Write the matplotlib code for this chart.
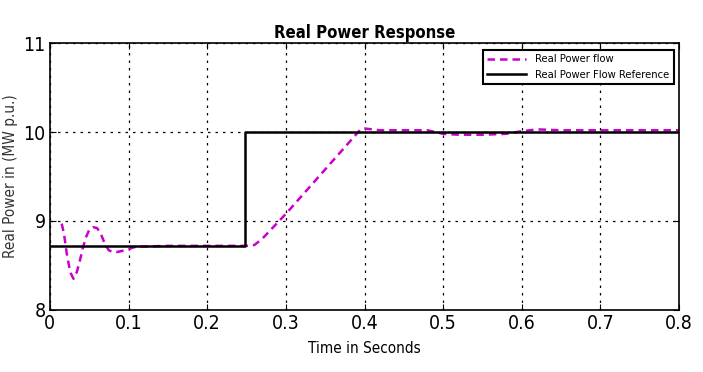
import matplotlib
matplotlib.use("Agg")
import matplotlib.pyplot as plt
import numpy as np

plt.rcParams['font.family'] = ['DejaVu Sans']
plt.rcParams['font.stretch'] = 'condensed'

# reference power (step at 0.25 s)
t_ref = [0.0, 0.248, 0.248, 0.8]
p_ref = [8.72, 8.72, 10.0, 10.0]

# measured real power flow
t_flow = [0.015, 0.018, 0.022, 0.026, 0.030, 0.034, 0.038, 0.042, 0.046, 0.050, 0.055,
          0.060, 0.065, 0.070, 0.075, 0.080, 0.085, 0.090, 0.095, 0.100, 0.105, 0.110,
          0.15, 0.20, 0.25, 0.255, 0.26, 0.27, 0.30, 0.33, 0.36, 0.39, 0.395, 0.40,
          0.42, 0.45, 0.48, 0.50, 0.52, 0.55, 0.58, 0.60, 0.62, 0.65, 0.70, 0.75, 0.80]
p_flow = [8.97, 8.85, 8.60, 8.42, 8.35, 8.42, 8.55, 8.70, 8.82, 8.90, 8.93,
          8.92, 8.85, 8.74, 8.67, 8.65, 8.65, 8.66, 8.67, 8.68, 8.70, 8.71,
          8.72, 8.72, 8.72, 8.72, 8.73, 8.80, 9.08, 9.38, 9.68, 9.98, 10.03, 10.04,
          10.02, 10.02, 10.02, 9.98, 9.97, 9.97, 9.98, 10.01, 10.03, 10.02, 10.02, 10.02, 10.02]

fig = plt.figure(figsize=(7.03, 3.72), dpi=100)
ax = fig.add_axes([0.071, 0.167, 0.895, 0.717])

l1, = ax.plot(t_flow, p_flow, color='#cc00cc', linestyle=(0, (3, 2)), linewidth=1.8, label='Real Power flow')
l2, = ax.plot(t_ref, p_ref, color='black', linewidth=1.8, label='Real Power Flow Reference')

ax.set_xlim(0, 0.8)
ax.set_ylim(8, 11)
ax.set_xticks(np.arange(0, 0.81, 0.1))
ax.set_xticklabels(['0', '0.1', '0.2', '0.3', '0.4', '0.5', '0.6', '0.7', '0.8'])
ax.set_yticks([8, 9, 10, 11])
ax.tick_params(labelsize=14, direction='in', length=4, top=True, right=True, pad=3)
ax.grid(True, color='black', linestyle=(0, (2, 4)), linewidth=0.9)
for s in ax.spines.values():
    s.set_linewidth(1.2)

ax.set_title('Real Power Response', fontsize=12, fontweight='bold', pad=4)
ax.set_xlabel('Time in Seconds', fontsize=11, labelpad=6)
ax.set_ylabel('Real Power in (MW p.u.)', fontsize=11, color='#333333', labelpad=4)

leg = ax.legend(handles=[l1, l2], loc='upper right', fontsize=8, frameon=True,
                fancybox=False, edgecolor='black', framealpha=1,
                bbox_to_anchor=(1.0, 0.995), handlelength=3.5)
leg.get_frame().set_linewidth(1.5)

fig.savefig('out.png', dpi=100)
